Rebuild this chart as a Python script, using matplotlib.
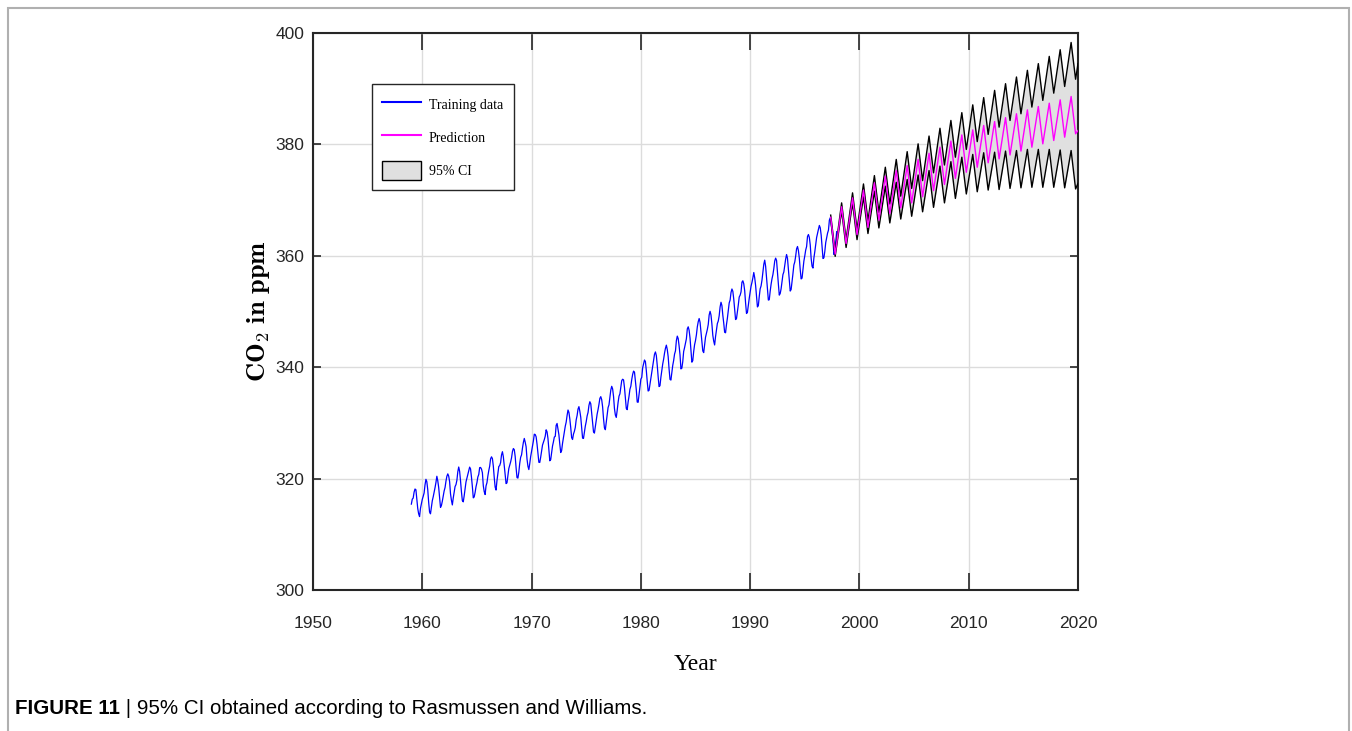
import numpy as np
import matplotlib
matplotlib.use("Agg")
import matplotlib.pyplot as plt
from matplotlib.lines import Line2D
from matplotlib.patches import Patch, Rectangle

# monthly CO2 (ppm), Jan..Dec, 1959-1997 -> training data
co2_train = [
    [315.42, 316.31, 316.50, 317.56, 318.13, 318.00, 316.39, 314.65, 313.68, 313.18, 314.66, 315.43],
    [316.27, 316.81, 317.42, 318.87, 319.87, 319.43, 318.01, 315.74, 314.00, 313.68, 314.84, 316.03],
    [316.73, 317.54, 318.38, 319.31, 320.42, 319.61, 318.42, 316.63, 314.83, 315.16, 315.94, 316.85],
    [317.78, 318.40, 319.53, 320.42, 320.85, 320.45, 319.45, 317.25, 316.11, 315.27, 316.53, 317.53],
    [318.58, 318.92, 319.70, 321.22, 322.08, 321.31, 319.58, 317.61, 316.05, 315.83, 316.91, 318.20],
    [319.41, 320.07, 320.74, 321.40, 322.06, 321.73, 320.27, 318.54, 316.54, 316.71, 317.53, 318.55],
    [319.27, 320.28, 320.73, 321.97, 322.00, 321.71, 321.05, 318.71, 317.66, 317.14, 318.70, 319.25],
    [320.46, 321.43, 322.23, 323.54, 323.91, 323.59, 322.24, 320.20, 318.48, 317.94, 319.63, 320.87],
    [322.17, 322.34, 322.88, 324.25, 324.83, 323.93, 322.38, 320.76, 319.10, 319.24, 320.56, 321.80],
    [322.40, 322.99, 323.73, 324.86, 325.40, 325.20, 323.98, 321.95, 320.18, 320.09, 321.16, 322.74],
    [323.83, 324.26, 325.47, 326.50, 327.21, 326.54, 325.72, 323.50, 322.22, 321.62, 322.69, 323.95],
    [324.89, 325.82, 326.77, 327.97, 327.91, 327.50, 326.18, 324.53, 322.93, 322.90, 323.85, 324.96],
    [326.01, 326.51, 327.01, 327.62, 328.76, 328.40, 327.20, 325.27, 323.20, 323.40, 324.63, 325.85],
    [326.60, 327.47, 327.58, 329.56, 329.90, 328.92, 327.88, 326.16, 324.68, 325.04, 326.34, 327.39],
    [328.37, 329.40, 330.14, 331.33, 332.31, 331.90, 330.70, 329.15, 327.35, 327.02, 327.99, 328.48],
    [329.18, 330.55, 331.32, 332.48, 332.92, 332.08, 331.01, 329.23, 327.27, 327.21, 328.29, 329.41],
    [330.23, 331.25, 331.87, 333.14, 333.80, 333.43, 331.73, 329.90, 328.40, 328.17, 329.32, 330.59],
    [331.58, 332.39, 333.33, 334.41, 334.71, 334.17, 332.89, 330.77, 329.14, 328.78, 330.14, 331.52],
    [332.75, 333.24, 334.53, 335.90, 336.57, 336.10, 334.76, 332.59, 331.42, 330.98, 332.24, 333.68],
    [334.80, 335.22, 336.47, 337.59, 337.84, 337.72, 336.37, 334.51, 332.60, 332.38, 333.75, 334.78],
    [336.05, 336.59, 337.79, 338.71, 339.30, 339.12, 337.56, 335.92, 333.75, 333.70, 335.12, 336.56],
    [337.84, 338.19, 339.91, 340.60, 341.29, 341.00, 339.39, 337.43, 335.72, 335.84, 336.93, 338.04],
    [339.06, 340.30, 341.21, 342.33, 342.74, 342.08, 340.32, 338.26, 336.52, 336.68, 338.19, 339.44],
    [340.57, 341.44, 342.53, 343.39, 343.96, 343.18, 341.88, 339.65, 337.81, 337.69, 339.09, 340.32],
    [341.20, 342.35, 342.93, 344.77, 345.58, 345.14, 343.81, 342.21, 339.69, 339.82, 340.98, 342.82],
    [343.52, 344.33, 345.11, 346.88, 347.25, 346.62, 345.22, 343.11, 340.90, 341.18, 342.80, 344.04],
    [344.79, 345.82, 347.25, 348.17, 348.74, 348.07, 346.38, 344.51, 342.92, 342.62, 344.06, 345.38],
    [346.11, 346.78, 347.68, 349.37, 350.03, 349.37, 347.76, 345.73, 344.68, 343.99, 345.48, 346.72],
    [347.84, 348.29, 349.23, 350.80, 351.66, 351.07, 349.33, 347.92, 346.27, 346.18, 347.64, 348.78],
    [350.25, 351.54, 352.05, 353.41, 354.04, 353.62, 352.22, 350.27, 348.55, 348.72, 349.91, 351.18],
    [352.60, 352.92, 353.53, 355.26, 355.52, 354.97, 353.75, 351.52, 349.64, 349.83, 351.14, 352.37],
    [353.50, 354.55, 355.23, 356.04, 357.00, 356.07, 354.67, 352.76, 350.82, 351.04, 352.69, 354.07],
    [354.59, 355.63, 357.03, 358.48, 359.22, 358.12, 356.06, 353.92, 352.05, 352.11, 353.64, 354.89],
    [355.88, 356.63, 357.72, 359.07, 359.58, 359.17, 356.94, 354.92, 352.94, 353.23, 354.09, 355.33],
    [356.63, 357.10, 358.32, 359.41, 360.23, 359.55, 357.53, 355.48, 353.67, 353.95, 355.30, 356.78],
    [358.34, 358.89, 359.95, 361.25, 361.67, 360.94, 359.55, 357.49, 355.84, 356.00, 357.59, 359.05],
    [359.98, 361.03, 361.66, 363.48, 363.82, 363.30, 361.94, 359.50, 358.11, 357.80, 359.61, 360.74],
    [362.09, 363.29, 364.06, 364.76, 365.45, 365.01, 363.70, 361.54, 359.51, 359.65, 360.80, 362.38],
    [363.23, 364.06, 364.61, 366.40, 366.84, 365.68, 364.52, 362.57, 360.24, 360.83, 362.49, 364.34],
]
train_start = 1959

# prediction: seasonal peak (~May) and trough (~Oct) per year
pred_years = list(range(1997, 2020))
mean_peak = [366.9, 368.8, 370.4, 371.8, 373.1, 374.3, 375.3, 376.2, 377.3, 378.4, 379.5, 380.6,
             381.7, 382.6, 383.4, 384.1, 384.8, 385.5, 386.2, 386.8, 387.4, 388.0, 388.6]
mean_trough = [360.3, 362.2, 363.8, 365.1, 366.4, 367.6, 368.6, 369.5, 370.6, 371.7, 372.8, 373.9,
               375.0, 375.9, 376.7, 377.4, 378.1, 378.8, 379.5, 380.1, 380.7, 381.3, 381.9]
upper_peak = [367.3, 369.5, 371.3, 372.9, 374.4, 375.9, 377.3, 378.7, 380.1, 381.5, 382.9, 384.3,
              385.7, 387.1, 388.4, 389.7, 390.9, 392.1, 393.3, 394.5, 395.8, 397.0, 398.3]
upper_trough = [360.7, 362.9, 364.7, 366.3, 367.8, 369.3, 370.7, 372.1, 373.5, 374.9, 376.3, 377.7,
                379.1, 380.5, 381.8, 383.1, 384.3, 385.5, 386.7, 387.9, 389.2, 390.4, 391.7]
lower_peak = [366.5, 368.1, 369.5, 370.6, 371.6, 372.5, 373.2, 373.7, 374.5, 375.3, 376.1, 376.9,
              377.7, 378.2, 378.5, 378.6, 378.8, 378.9, 379.1, 379.1, 379.1, 379.0, 378.9]
lower_trough = [359.9, 361.5, 362.9, 364.0, 365.0, 365.9, 366.6, 367.1, 367.9, 368.7, 369.5, 370.3,
                371.1, 371.5, 371.8, 371.9, 372.1, 372.2, 372.3, 372.3, 372.3, 372.2, 372.0]
pred_end = 2020.0
mean_end, upper_end, lower_end = 382.5, 394.5, 373.0

x_ticks = [1950, 1960, 1970, 1980, 1990, 2000, 2010, 2020]
y_ticks = [300, 320, 340, 360, 380, 400]

# ---- build series
y_train = np.array(co2_train).ravel()
t_train = train_start + np.arange(len(y_train)) / 12.0

yrs = np.array(pred_years, dtype=float)
t_pred = np.append(np.column_stack([yrs + 0.37, yrs + 0.78]).ravel(), pred_end)


def zigzag(peaks, troughs, end):
    return np.append(np.column_stack([peaks, troughs]).ravel(), end)


y_mean = zigzag(mean_peak, mean_trough, mean_end)
y_up = zigzag(upper_peak, upper_trough, upper_end)
y_lo = zigzag(lower_peak, lower_trough, lower_end)

narrow = ["Liberation Sans Narrow", "Liberation Sans", "DejaVu Sans"]
serif = ["Liberation Serif", "DejaVu Serif"]
plt.rcParams["mathtext.fontset"] = "cm"

fig = plt.figure(figsize=(13.52, 7.31), dpi=100)
ax = fig.add_axes([313 / 1352, 141 / 731, 765 / 1352, 557 / 731])

ax.plot(t_train, y_train, color="#0000ff", lw=0.9, zorder=3)
ax.fill_between(t_pred, y_lo, y_up, color="#e0e0e0", lw=0, zorder=2)
ax.plot(t_pred, y_up, color="black", lw=1.0, zorder=4)
ax.plot(t_pred, y_lo, color="black", lw=1.0, zorder=4)
ax.plot(t_pred, y_mean, color="#ff00ff", lw=1.0, zorder=5)

ax.set_xlim(1950, 2020)
ax.set_ylim(300, 400)
ax.set_xticks(x_ticks)
ax.set_yticks(y_ticks)
ax.grid(True, color="#dcdcdc", lw=1.0)
ax.set_axisbelow(True)
for s in ax.spines.values():
    s.set_linewidth(1.5)
    s.set_color("#262626")
ax.tick_params(axis="both", direction="in", top=True, right=True,
               colors="#262626", width=1.2, labelsize=12.5)
ax.tick_params(axis="x", length=12, pad=19)
ax.tick_params(axis="y", length=6, pad=6)
for lab in ax.get_xticklabels() + ax.get_yticklabels():
    lab.set_family(narrow)

ax.set_xlabel("Year", family=serif, fontsize=17, labelpad=16)
ax.set_ylabel(r"$\mathbf{CO_2\ in\ ppm}$", fontsize=19)
ax.yaxis.set_label_coords(-0.054, 0.5)

handles = [Line2D([], [], color="#0000ff", lw=1.5),
           Line2D([], [], color="#ff00ff", lw=1.5),
           Patch(facecolor="#e0e0e0", edgecolor="black", lw=1.0)]
leg = ax.legend(handles, ["Training data", "Prediction", "95% CI"],
                loc="upper left", bbox_to_anchor=(0.077, 0.908), borderaxespad=0,
                prop={"family": serif, "size": 10}, handlelength=2.8, handleheight=1.7,
                labelspacing=1.05, handletextpad=0.55, borderpad=0.75,
                fancybox=False, framealpha=1, edgecolor="#262626")
leg.get_frame().set_linewidth(1.0)

# outer frame and caption
fig.patches.append(Rectangle((8 / 1352, -0.1), 1341 / 1352, 1.1 - 8 / 731,
                             transform=fig.transFigure, fill=False,
                             edgecolor="#b0b0b0", lw=1.5))
t1 = fig.text(15 / 1352, 1 - 708 / 731, "FIGURE 11", fontsize=14.8, weight="bold",
              family="Liberation Sans", va="center")
ax.annotate(" | 95% CI obtained according to Rasmussen and Williams.",
            xy=(1, 0), xycoords=t1, va="bottom", ha="left",
            fontsize=14.8, family="Liberation Sans", annotation_clip=False)

fig.savefig("out.png", dpi=100)
